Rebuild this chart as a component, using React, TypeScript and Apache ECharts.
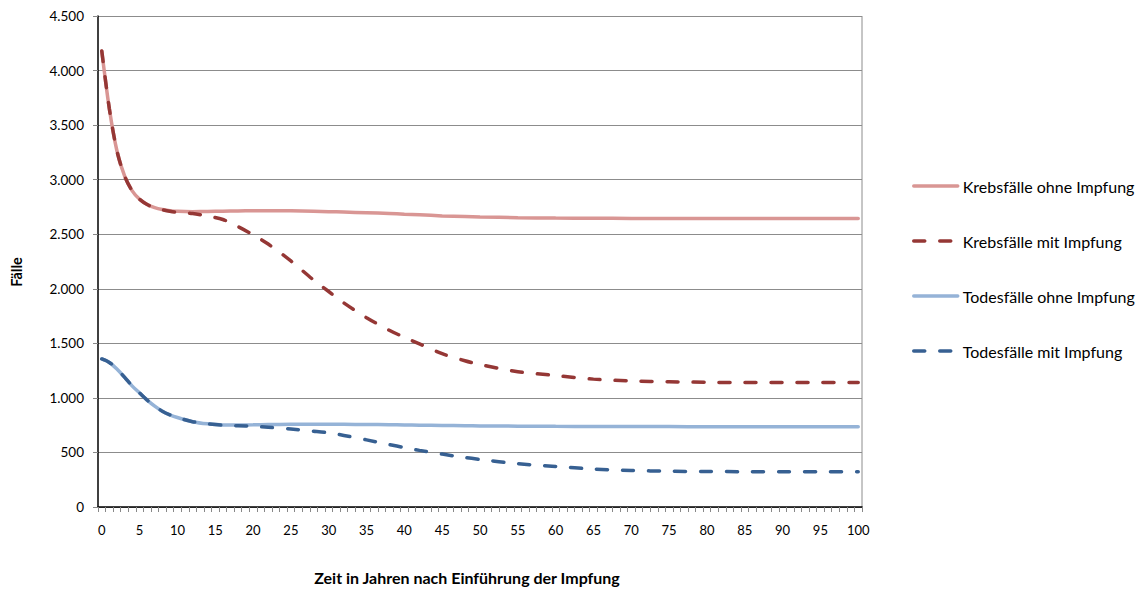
import React, { useEffect, useRef } from "react";
import * as echarts from "echarts";

// Years 0..100 on the category axis
const years: string[] = Array.from({ length: 101 }, (_, i) => String(i));

// Sampled years for the curves
const sampleYears = [0, 1, 2, 3, 4, 5, 6, 7, 8, 9, 10, 12, 14, 16, 18, 20, 22, 25, 28, 30, 32, 35, 38, 40, 42, 45, 48, 50, 55, 60, 65, 70, 75, 80, 85, 90, 95, 100];

const krebsOhne = [4180, 3650, 3265, 3036, 2900, 2820, 2772, 2743, 2726, 2716, 2710, 2707, 2708, 2711, 2713, 2715, 2716, 2715, 2711, 2707, 2703, 2697, 2690, 2684, 2678, 2668, 2662, 2658, 2652, 2648, 2646, 2645, 2644, 2644, 2643, 2643, 2643, 2643];
const krebsMit = [4180, 3650, 3265, 3036, 2900, 2820, 2772, 2743, 2724, 2710, 2700, 2690, 2665, 2635, 2570, 2495, 2410, 2255, 2080, 1975, 1870, 1735, 1620, 1555, 1495, 1405, 1340, 1305, 1240, 1205, 1172, 1155, 1148, 1143, 1141, 1140, 1140, 1140];
const todesOhne = [1357, 1325, 1265, 1190, 1110, 1045, 980, 925, 878, 845, 820, 782, 762, 752, 752, 753, 756, 758, 759, 759, 758, 756, 754, 752, 750, 747, 745, 743, 741, 739, 738, 737, 737, 736, 736, 736, 736, 736];
const todesMit = [1357, 1325, 1265, 1190, 1110, 1045, 980, 925, 878, 845, 820, 782, 762, 750, 745, 740, 731, 715, 695, 680, 656, 615, 572, 545, 519, 485, 453, 436, 397, 372, 348, 335, 328, 325, 324, 324, 324, 324];

const seriesNames = ["Krebsfälle ohne Impfung", "Krebsfälle mit Impfung", "Todesfälle ohne Impfung", "Todesfälle mit Impfung"];
const seriesValues = [krebsOhne, krebsMit, todesOhne, todesMit];
const seriesColors = ["#D99694", "#953735", "#95B3D7", "#376092"];
const seriesDashed = [false, true, false, true];

const xTitle = "Zeit in Jahren nach Einführung der Impfung";
const yTitle = "Fälle";

const FONT = "Lato, 'Open Sans', sans-serif";

function fmtThousands(v: number): string {
  return String(v).replace(/\B(?=(\d{3})+(?!\d))/g, ".");
}

export default function App() {
  const ref = useRef<HTMLDivElement>(null);

  useEffect(() => {
    if (!ref.current) return;
    const chart = echarts.init(ref.current, undefined, { renderer: "svg" });

    const series = seriesNames.map((name, si) => ({
      name,
      type: "line",
      smooth: 0.3,
      showSymbol: false,
      symbol: "none",
      z: si === 1 || si === 3 ? 3 : 2,
      data: sampleYears.map((y, i) => [y, seriesValues[si][i]]),
      lineStyle: {
        color: seriesColors[si],
        width: 3.5,
        type: seriesDashed[si] ? [11, 15] : "solid",
        cap: "round",
      },
      itemStyle: { color: seriesColors[si] },
    }));

    chart.setOption({
      animation: false,
      backgroundColor: "#ffffff",
      textStyle: { fontFamily: FONT },
      grid: { left: 98, right: 279, top: 16, bottom: 82, containLabel: false },
      legend: {
        orient: "vertical",
        left: 912,
        top: 178,
        padding: 0,
        itemWidth: 44,
        itemHeight: 14,
        itemGap: 39,
        data: seriesNames,
        itemStyle: { opacity: 0, borderWidth: 0 },
        lineStyle: { width: 3.5 },
        textStyle: { fontFamily: FONT, fontSize: 16, color: "#000" },
      },
      xAxis: {
        type: "category",
        data: years,
        boundaryGap: true,
        axisLine: { lineStyle: { color: "#000", width: 1.5 } },
        axisTick: { show: true, interval: 0, length: 5, lineStyle: { color: "#888" } },
        axisLabel: { interval: 4, margin: 16, fontSize: 13, color: "#000", fontFamily: FONT },
        splitLine: { show: false },
      },
      yAxis: {
        type: "value",
        min: 0,
        max: 4500,
        interval: 500,
        axisLine: { show: true, lineStyle: { color: "#000", width: 1.5 } },
        axisTick: { show: true, length: 5, lineStyle: { color: "#888" } },
        axisLabel: {
          margin: 14,
          fontSize: 13.5,
          color: "#000",
          fontFamily: FONT,
          formatter: (v: number) => fmtThousands(v),
        },
        splitLine: { show: true, lineStyle: { color: "#8c8c8c", width: 1 } },
      },
      graphic: [
        {
          type: "text",
          x: 16,
          y: 272,
          rotation: Math.PI / 2,
          style: {
            text: yTitle,
            font: `bold 14.5px ${FONT}`,
            fill: "#000",
            align: "center",
            verticalAlign: "middle",
          },
        },
        {
          type: "text",
          x: 467,
          y: 577,
          style: {
            text: xTitle,
            font: `bold 16px ${FONT}`,
            fill: "#000",
            align: "center",
            verticalAlign: "middle",
          },
        },
        {
          type: "line",
          shape: { x1: 862, y1: 16, x2: 862, y2: 507 },
          style: { stroke: "#8c8c8c", lineWidth: 1 },
        },
      ],
      series,
    });

    return () => chart.dispose();
  }, []);

  return (
    <div
      ref={ref}
      style={{ position: "absolute", left: 0, top: 0, width: 1141, height: 589 }}
    />
  );
}
